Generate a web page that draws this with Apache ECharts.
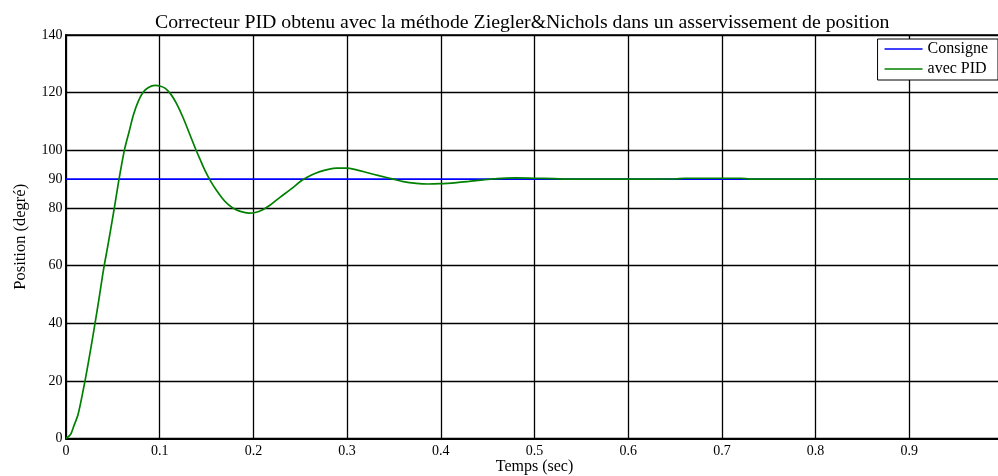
<!DOCTYPE html>
<html>
<head>
<meta charset="utf-8">
<script src="https://cdn.jsdelivr.net/npm/echarts@6/dist/echarts.min.js"></script>
<style>
  html, body { margin: 0; padding: 0; background: #fff; }
  #chart { width: 998px; height: 476px; }
</style>
</head>
<body>
<div id="chart"></div>
<script>
// Step response of the position loop with a Ziegler–Nichols PID
const timeSec = [0, 0.005, 0.008, 0.013, 0.02, 0.025, 0.031, 0.035, 0.04, 0.045, 0.0516, 0.0566, 0.0625, 0.067,
  0.072, 0.077, 0.0825, 0.088, 0.095, 0.1, 0.106, 0.112, 0.118, 0.125, 0.133, 0.138, 0.143, 0.148, 0.154, 0.16,
  0.167, 0.173, 0.179, 0.186, 0.195, 0.202, 0.21, 0.218, 0.228, 0.24, 0.2515, 0.262, 0.271, 0.28, 0.289, 0.2995,
  0.31, 0.3209, 0.335, 0.349, 0.36, 0.374, 0.386, 0.399, 0.417, 0.43, 0.445, 0.46, 0.48, 0.5, 0.52, 0.538, 0.6,
  0.65, 0.66, 0.72, 0.73, 0.8, 0.9, 1.0];
const pidPosition = [0, 1.5, 4, 8.5, 19.5, 28.5, 40, 48, 58.5, 67.5, 80, 90, 100.3, 106,
  112.3, 116.9, 120.2, 121.8, 122.5, 122.3, 121.5, 119.4, 116.2, 111.3, 104.8, 100.7, 96.9, 93.2, 89.5, 86.4,
  83.3, 81.2, 79.8, 78.8, 78.2, 78.4, 79.4, 81, 83.6, 86.5, 89.5, 91.4, 92.6, 93.4, 93.8, 93.8,
  93.2, 92.3, 91.1, 90, 89.1, 88.5, 88.3, 88.4, 88.8, 89.2, 89.7, 90.2, 90.4, 90.3, 90.2, 90, 90,
  90.1, 90.3, 90.3, 90, 90, 90, 90];
const setpointTime = [0, 1.0];
const setpointValue = [90, 90];
const yLabelValues = [0, 20, 40, 60, 80, 90, 100, 120, 140];

const serif = 'Liberation Serif, Times New Roman, serif';
const chart = echarts.init(document.getElementById('chart'), null, { renderer: 'canvas' });

chart.setOption({
  animation: false,
  backgroundColor: '#ffffff',
  title: {
    text: 'Correcteur PID obtenu avec la méthode Ziegler&Nichols dans un asservissement de position',
    left: 150,
    top: 8,
    textStyle: { fontFamily: serif, fontSize: 19.8, fontWeight: 'normal', color: '#000' }
  },
  legend: {
    orient: 'vertical',
    right: 0,
    top: 39,
    backgroundColor: '#fff',
    borderColor: '#000',
    borderWidth: 1,
    padding: [2, 10, 3, 7],
    itemGap: 4,
    itemWidth: 38,
    itemHeight: 1.6,
    icon: 'rect',
    textStyle: { fontFamily: serif, fontSize: 16, lineHeight: 16, color: '#000' },
    data: ['Consigne', 'avec PID']
  },
  grid: { left: 66, top: 35, width: 937, height: 403.5, containLabel: false, outerBoundsMode: 'none' },
  xAxis: [{
    type: 'value',
    min: 0, max: 1, interval: 0.1,
    name: 'Temps (sec)',
    nameLocation: 'middle',
    nameGap: 20,
    nameMoveOverlap: false,
    nameTextStyle: { fontFamily: serif, fontSize: 16, color: '#000' },
    axisLine: { show: true, lineStyle: { color: '#000', width: 2 } },
    axisTick: { show: false },
    axisLabel: { fontFamily: serif, fontSize: 14, color: '#000', margin: 6 },
    splitLine: { show: true, lineStyle: { color: '#000', width: 1.3 } }
  }, {
    type: 'value',
    position: 'top',
    min: 0, max: 1,
    axisLine: { show: true, lineStyle: { color: '#000', width: 1.6 } },
    axisTick: { show: false },
    axisLabel: { show: false },
    splitLine: { show: false }
  }],
  yAxis: {
    type: 'value',
    min: 0, max: 140, interval: 20,
    name: 'Position (degré)',
    nameLocation: 'middle',
    nameGap: 37,
    nameMoveOverlap: false,
    nameTextStyle: { fontFamily: serif, fontSize: 16.5, color: '#000' },
    axisLine: { show: true, lineStyle: { color: '#000', width: 2 } },
    axisTick: { show: false },
    axisLabel: { fontFamily: serif, fontSize: 14, color: '#000', margin: 3.5, customValues: yLabelValues },
    splitLine: { show: true, lineStyle: { color: '#000', width: 1.3 } }
  },
  series: [{
    name: 'Consigne',
    type: 'line',
    symbol: 'none',
    color: '#0000ff',
    lineStyle: { color: '#0000ff', width: 1.6 },
    data: setpointTime.map((t, i) => [t, setpointValue[i]]),
    z: 3
  }, {
    name: 'avec PID',
    type: 'line',
    symbol: 'none',
    smooth: 0.3,
    color: '#008000',
    lineStyle: { color: '#008000', width: 1.7 },
    data: timeSec.map((t, i) => [t, pidPosition[i]]),
    z: 4
  }]
});
</script>
</body>
</html>
